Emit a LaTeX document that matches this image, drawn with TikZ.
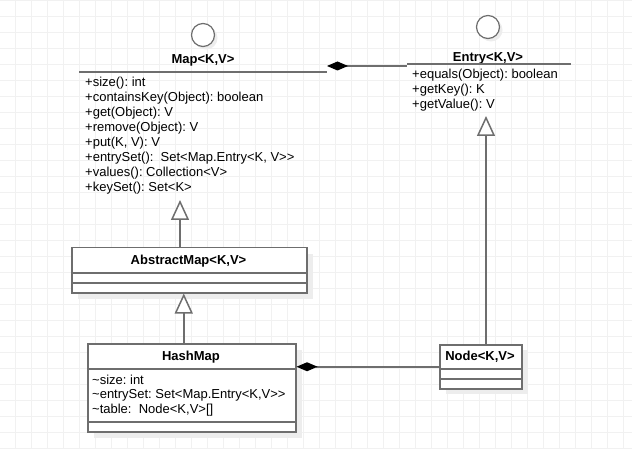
\documentclass[tikz,border=0pt]{standalone}
\usepackage{fontspec}
\setmainfont{Liberation Sans}
\usetikzlibrary{arrows.meta}
\frenchspacing
\definecolor{strk}{HTML}{6E6E6E}
\definecolor{shad}{HTML}{EDEDED}
\definecolor{gridc}{HTML}{F1F1F1}
\tikzset{
  txt/.style={font=\fontsize{13}{15}\selectfont\frenchspacing, inner sep=0pt, anchor=west},
  ttl/.style={font=\fontsize{13}{15}\selectfont\bfseries, inner sep=0pt},
  umlbox/.style={draw=strk, line width=1.5pt, fill=white, inner sep=0pt, anchor=north west},
  shadowbox/.style={fill=shad, draw=none, inner sep=0pt, anchor=north west},
  divider/.style={draw=strk, line width=1.5pt},
  lolli/.style={circle, draw=strk, line width=1.2pt, fill=white, minimum size=23pt, inner sep=0pt},
  lollishad/.style={circle, fill=shad, minimum size=23pt, inner sep=0pt},
  inh/.style={draw=strk, line width=1.5pt, -{Triangle[open, width=18pt, length=20pt, fill=white]}},
  comp/.style={draw=strk, line width=1.5pt, {Diamond[width=9pt, length=21pt, fill=black, color=black]}-},
}
\begin{document}
\begin{tikzpicture}[x=1pt, y=-1pt]
\useasboundingbox (0,0) rectangle (632,449);
\fill[white] (0,0) rectangle (632,449);
\foreach \gx in {-0.7,15.3,...,632} {\draw[gridc, line width=0.9pt] (\gx,0) -- (\gx,449);}
\foreach \gy in {0,16,...,449} {\draw[gridc, line width=0.9pt] (0,\gy) -- (632,\gy);}

% ---- Map interface ----
\node[lollishad] (mapS) at (206,38) {};
\node[lolli] (mapC) at (203,35) {};
\node[ttl] (mapT) at (203,60) {Map<K,V>};
\draw[divider] (79,72) -- (327,72);
\foreach \t [count=\i] in {+size(): int,
  +containsKey(Object): boolean,
  +get(Object): V,
  +remove(Object): V,
  {+put(K, V): V},
  {+entrySet():\ \ Set<Map.Entry<K, V>{}>},
  +values(): Collection<V>,
  +keySet(): Set<K>}
  {\node[txt] (m\i) at (85,{68+15*\i}) {\t};}
\coordinate (mapR) at (327,66);
\coordinate (mapTip) at (180,200);

% ---- Entry interface ----
\node[lollishad] (entS) at (491,30) {};
\node[lolli] (entC) at (488,27) {};
\node[ttl] (entT) at (488,58) {Entry<K,V>};
\draw[divider] (407,64) -- (571,64);
\foreach \t [count=\i] in {+equals(Object): boolean,
  +getKey(): K,
  +getValue(): V}
  {\node[txt] (e\i) at (412,{60+15*\i}) {\t};}
\coordinate (entL) at (407,66);
\coordinate (entTip) at (486,116);

% ---- AbstractMap ----
\node[shadowbox, minimum width=235pt, minimum height=45pt] (absS) at (78,254) {};
\node[umlbox, minimum width=235pt, minimum height=45pt] (abs) at (71,247) {};
\node[ttl] (absT) at (188.5,261) {AbstractMap<K,V>};
\draw[divider] (71,273) -- (306,273);
\draw[divider] (71,283) -- (306,283);

% ---- HashMap ----
\node[shadowbox, minimum width=208pt, minimum height=88pt] (hmS) at (94,350) {};
\node[umlbox, minimum width=208pt, minimum height=88pt] (hm) at (87,343) {};
\node[ttl] (hmT) at (191,357) {HashMap};
\draw[divider] (87,369) -- (295,369);
\node[txt] (h1) at (92,380) {\textasciitilde size: int};
\node[txt] (h2) at (92,395) {\textasciitilde entrySet: Set<Map.Entry<K,V>{}>};
\node[txt] (h3) at (92,410) {\textasciitilde table:\ \ Node<K,V>[]};
\draw[divider] (87,422) -- (295,422);

% ---- Node ----
\node[shadowbox, minimum width=82pt, minimum height=44pt] (ndS) at (446,350) {};
\node[umlbox, minimum width=82pt, minimum height=44pt] (nd) at (439,344) {};
\node[ttl] (ndT) at (480,357) {Node<K,V>};
\draw[divider] (439,369) -- (521,369);
\draw[divider] (439,379) -- (521,379);

% ---- connectors ----
\draw[comp] (mapR) -- (entL);
\draw[inh] (abs.north -| mapTip) -- (mapTip);
\draw[inh] ([xshift=-8pt]hm.north) -- ([xshift=-8pt]hm.north |- abs.south);
\draw[inh] (nd.north -| entTip) -- (entTip);
\draw[comp] (hm.east |- nd.west) -- (nd.west);
\end{tikzpicture}
\end{document}
